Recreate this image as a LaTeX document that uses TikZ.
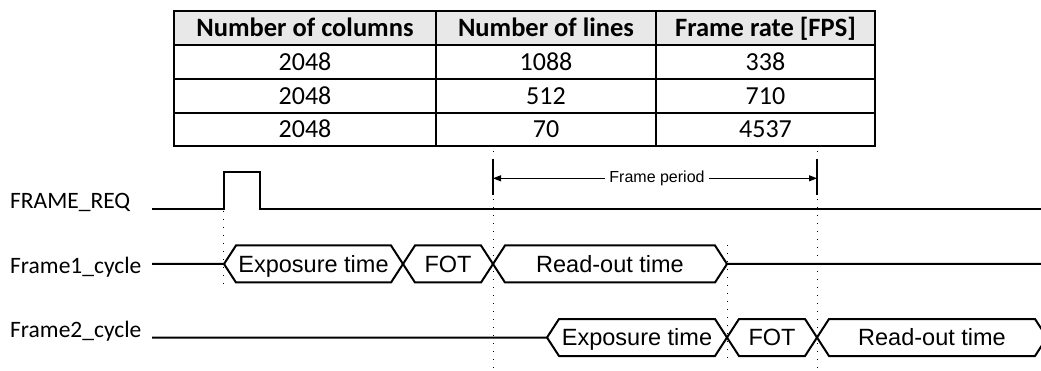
\documentclass[tikz,border=0pt]{standalone}
\usepackage{fontspec}
\setmainfont{Carlito}
\newfontfamily\arialfont{Liberation Sans}
\usetikzlibrary{arrows.meta}
\begin{document}
\begin{tikzpicture}[x=1pt,y=-1pt,
  grid/.style={line width=2pt},
  hdrtext/.style={font=\fontsize{26.5}{29}\selectfont\bfseries, anchor=base, inner sep=0pt},
  celltext/.style={font=\fontsize{26}{28}\selectfont, anchor=base, inner sep=0pt},
  sig/.style={line width=2pt, line join=miter},
  lbl/.style={font=\fontsize{23.5}{26}\selectfont, anchor=base west, inner sep=0pt},
  bustext/.style={font=\arialfont\fontsize{23.5}{26}\selectfont, anchor=base, inner sep=0pt},
  guide/.style={line width=1pt, dash pattern=on 1pt off 7pt},
  dim/.style={line width=1pt}]
\useasboundingbox (0,0) rectangle (1041,371);
\clip (0,0) rectangle (1041,371);
% ---------- table ----------
\fill[gray!18] (174,10.7) rectangle (875,45.3);
\draw[grid] (174,10.7) rectangle (875,146);
\foreach \yy in {45.3,78.7,112.7} \draw[grid] (174,\yy) -- (875,\yy);
\foreach \xx in {436,656} \draw[grid] (\xx,10.7) -- (\xx,146);
\node[hdrtext] (h1) at (305,36.5) {Number of columns};
\node[hdrtext] (h2) at (546,36.5) {Number of lines};
\node[hdrtext] (h3) at (765.5,36.5) {Frame rate [FPS]};
\node[celltext] (a1) at (305,70.8) {2048};
\node[celltext] (b1) at (546,70.8) {1088};
\node[celltext] (c1) at (765.5,70.8) {338};
\node[celltext] (a2) at (305,104.4) {2048};
\node[celltext] (b2) at (546,104.4) {512};
\node[celltext] (c2) at (765.5,104.4) {710};
\node[celltext] (a3) at (305,138) {2048};
\node[celltext] (b3) at (546,138) {70};
\node[celltext] (c3) at (765.5,138) {4537};
% ---------- guides ----------
\draw[guide] (223.5,211) -- (223.5,290);
\draw[guide] (493,151) -- (493,371);
\draw[guide] (727,245) -- (727,362);
\draw[guide] (817,151) -- (817,371);
% ---------- labels ----------
\node[lbl] (l1) at (10,208.3) {FRAME\_REQ};
\node[lbl] (l2) at (10,273.3) {Frame1\_cycle};
\node[lbl] (l3) at (10,337.7) {Frame2\_cycle};
% ---------- FRAME_REQ ----------
\draw[sig] (152,209) -- (223.5,209) -- (223.5,172.3) -- (260,172.3) -- (260,209) -- (1045,209);
% ---------- Frame period ----------
\coordinate (p1) at (493,178.3);
\coordinate (p2) at (817,178.3);
\draw[line width=1.3pt] (493,159) -- (493,195);
\draw[line width=1.3pt] (817,159) -- (817,195);
\draw[dim, {Triangle[length=8pt,width=6pt]}-{Triangle[length=8pt,width=6pt]}] (p1) -- (p2);
\node[fill=white, inner xsep=4pt, inner ysep=1pt, font=\arialfont\fontsize{16}{18}\selectfont] (fp) at (657,178.3) {Frame period};
% ---------- Frame1_cycle ----------
\def\ya{264}\def\yt{245.5}\def\yb{282.5}
\draw[sig] (152,\ya) -- (224,\ya) -- (236,\yt) -- (391,\yt) -- (403,\ya) -- (415,\yt) -- (481,\yt) -- (493,\ya) -- (505,\yt) -- (715,\yt) -- (727,\ya) -- (1045,\ya);
\draw[sig] (224,\ya) -- (236,\yb) -- (391,\yb) -- (403,\ya) -- (415,\yb) -- (481,\yb) -- (493,\ya) -- (505,\yb) -- (715,\yb) -- (727,\ya);
\node[bustext] (e1) at (313.5,272.2) {Exposure time};
\node[bustext] (f1) at (448,272.2) {FOT};
\node[bustext] (r1) at (610,272.2) {Read-out time};
% ---------- Frame2_cycle ----------
\def\yc{337.5}\def\yu{319}\def\yd{356}
\draw[sig] (152,\yc) -- (547,\yc) -- (559,\yu) -- (715,\yu) -- (727,\yc) -- (739,\yu) -- (805,\yu) -- (817,\yc) -- (829,\yu) -- (1035,\yu) -- (1047,\yc);
\draw[sig] (547,\yc) -- (559,\yd) -- (715,\yd) -- (727,\yc) -- (739,\yd) -- (805,\yd) -- (817,\yc) -- (829,\yd) -- (1035,\yd) -- (1047,\yc);
\node[bustext] (e2) at (637,345.7) {Exposure time};
\node[bustext] (f2) at (772,345.7) {FOT};
\node[bustext] (r2) at (932,345.7) {Read-out time};
\end{tikzpicture}
\end{document}
